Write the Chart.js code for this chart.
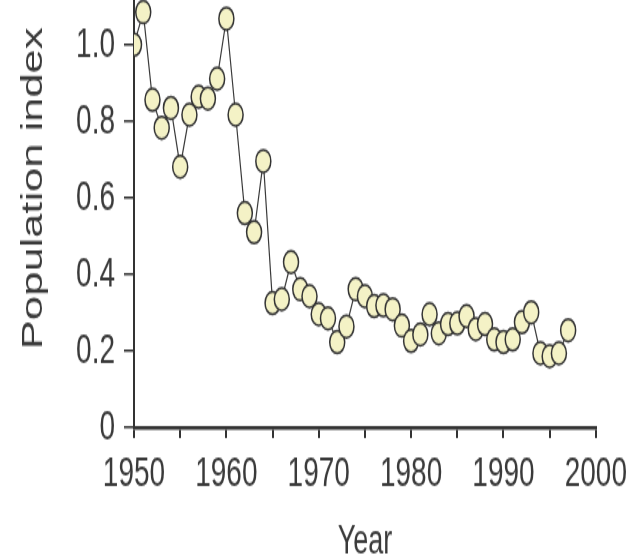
<!DOCTYPE html>
<html>
<head>
<meta charset="utf-8">
<script src="https://cdn.jsdelivr.net/npm/chart.js@4.4.0/dist/chart.umd.min.js"></script>
<style>
  html, body { margin: 0; padding: 0; background: #fff; overflow: hidden; }
  #wrap { position: relative; width: 634px; height: 560px; overflow: hidden; }
</style>
</head>
<body>
<div id="wrap">
  <!-- bitmap is stretched vertically 1.5x like the scanned original -->
  <canvas id="myChart" width="634" height="408"
    style="position:absolute; left:0; top:-51px; width:634px; height:612px;"></canvas>
</div>
<script>
const years = [1950, 1951, 1952, 1953, 1954, 1955, 1956, 1957, 1958, 1959,
  1960, 1961, 1962, 1963, 1964, 1965, 1966, 1967, 1968, 1969,
  1970, 1971, 1972, 1973, 1974, 1975, 1976, 1977, 1978, 1979,
  1980, 1981, 1982, 1983, 1984, 1985, 1986, 1987, 1988, 1989,
  1990, 1991, 1992, 1993, 1994, 1995, 1996, 1997]
const popIndex = [1.00, 1.085, 0.856, 0.783, 0.835, 0.681, 0.817, 0.864, 0.859, 0.911,
  1.068, 0.817, 0.560, 0.510, 0.696, 0.325, 0.335, 0.432, 0.361, 0.343,
  0.296, 0.285, 0.223, 0.264, 0.361, 0.343, 0.317, 0.319, 0.309, 0.266,
  0.226, 0.243, 0.296, 0.246, 0.270, 0.272, 0.291, 0.257, 0.270, 0.230,
  0.223, 0.230, 0.275, 0.301, 0.194, 0.186, 0.194, 0.254]
const xTickLabels = ['1950', '1960', '1970', '1980', '1990', '2000']
const yTickLabels = ['0', '0.2', '0.4', '0.6', '0.8', '1.0']

const ink = '#333'
Chart.defaults.font.family = "'Liberation Sans', Arial, Helvetica, sans-serif"
Chart.defaults.color = '#3a3a3a'

const points = years.map((y, i) => ({x: y, y: popIndex[i]}))

const ctx = document.getElementById('myChart').getContext('2d')
const myChart = new Chart(ctx, {
  type: 'line',
  data: {
    datasets: [{
      label: 'Population index',
      data: points,
      borderColor: '#3a3a3a',
      borderWidth: 1.2,
      tension: 0,
      fill: false,
      pointRadius: 7.5,
      pointBorderWidth: 1.5,
      pointBackgroundColor: '#f4f2c6',
      pointBorderColor: ink
    }]
  },
  options: {
    responsive: false,
    animation: false,
    devicePixelRatio: 1,
    layout: { autoPadding: false, padding: { left: 0, right: 38, top: 0, bottom: 0 } },
    plugins: { legend: { display: false }, tooltip: { enabled: false } },
    scales: {
      x: {
        type: 'linear',
        min: 1950,
        max: 2000,
        border: { display: true, color: ink, width: 2.5 },
        grid: { drawOnChartArea: false, drawTicks: true, tickLength: 7, color: ink, lineWidth: 2 },
        ticks: {
          stepSize: 5,
          autoSkip: false,
          maxRotation: 0,
          padding: 7,
          font: { size: 28 },
          callback: v => xTickLabels.includes(String(v)) ? String(v) : ''
        },
        title: { display: true, text: 'Year', font: { size: 27 }, padding: { top: 0, bottom: -4 } },
        afterFit: s => { s.height = 89 }
      },
      y: {
        min: 0,
        max: 1.25,
        border: { display: true, color: ink, width: 2 },
        grid: { drawOnChartArea: false, drawTicks: true, tickLength: 10, color: ink, lineWidth: 1.5 },
        ticks: {
          stepSize: 0.2,
          includeBounds: false,
          padding: 9,
          font: { size: 28 },
          callback: v => {
            const t = v === 0 ? '0' : v.toFixed(1)
            return yTickLabels.includes(t) ? t : ''
          }
        },
        title: { display: true, text: 'Population index', font: { size: 29 }, padding: { top: 17, bottom: 0 } },
        afterFit: s => { s.width = 134; s.paddingTop = 0 }
      }
    }
  }
})
</script>
</body>
</html>
